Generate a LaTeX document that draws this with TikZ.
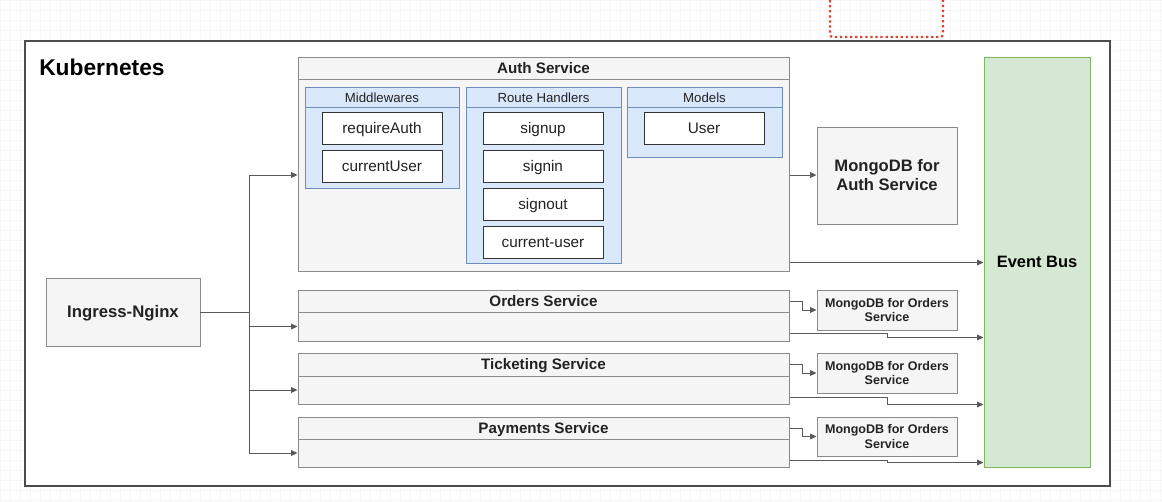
\documentclass[tikz,border=0pt]{standalone}
\usepackage{fontspec}
\setmainfont{Liberation Sans}
\usepackage{xcolor}
\usepackage{tikz}
\usetikzlibrary{positioning,calc,arrows.meta}

\definecolor{boxfill}{HTML}{F5F5F5}
\definecolor{boxline}{HTML}{8A8A8A}
\definecolor{grpfill}{HTML}{DAE8FC}
\definecolor{grpline}{HTML}{6C8EBF}
\definecolor{busfill}{HTML}{D5E8D4}
\definecolor{busline}{HTML}{82B366}
\definecolor{txt}{HTML}{222222}
\definecolor{selred}{HTML}{D9452F}

\newcommand{\pxu}{0.025cm}

\tikzset{
    frame/.style={draw=black!70, fill=white, line width=1pt, inner sep=0pt},
    svcbox/.style={draw=boxline, fill=boxfill, line width=0.7pt, inner sep=0pt, text=txt,
        text height=0.78em, text depth=0.04em, font=\bfseries\fontsize{10.8}{12}\selectfont},
    grphead/.style={draw=grpline, fill=grpfill, line width=0.6pt, inner sep=0pt, text=txt,
        minimum width=155*\pxu, minimum height=20*\pxu, text height=0.78em, text depth=0.04em,
        font=\fontsize{9.4}{11}\selectfont},
    grpbody/.style={draw=grpline, fill=grpfill, line width=0.6pt, inner sep=0pt, minimum width=155*\pxu},
    item/.style={draw=black!80, fill=white, line width=0.7pt, inner sep=0pt, text=txt,
        minimum width=120*\pxu, minimum height=32*\pxu, text height=0.78em, text depth=0.04em,
        font=\fontsize{10.9}{12}\selectfont},
    dbbox/.style={draw=boxline, fill=boxfill, line width=0.7pt, inner sep=0pt, text=txt, align=center,
        minimum width=140*\pxu, font=\bfseries\fontsize{8.9}{10}\selectfont},
    conn/.style={draw=black!65, line width=0.7pt},
    arr/.style={conn, -{Triangle[length=4.5pt,width=4pt]}},
}

\begin{document}
\begin{tikzpicture}[x=\pxu, y=-\pxu]
    \useasboundingbox (0,0) rectangle (1162,501);
    % canvas grid
    \draw[gray!7, line width=0.3pt, step=0.25cm] (0,0) grid (1162,501);
    \draw[selred, dotted, line width=1.6pt, rounded corners=2pt] (830,-5) -- (830,37) -- (943,37) -- (943,-5);

    % Kubernetes cluster
    \node[frame, minimum width=1085*\pxu, minimum height=445*\pxu] (kube) at (567.5,263.5) {};
    \node[anchor=west, inner sep=0pt, text=black, font=\bfseries\fontsize{16.2}{18}\selectfont] (kubelabel) at (39,67) {Kubernetes};

    % Auth Service
    \node[svcbox, minimum width=491*\pxu, minimum height=22*\pxu] (authhead) at (543.5,68) {Auth Service};
    \node[svcbox, minimum width=491*\pxu, minimum height=192*\pxu] (authbody) at (543.5,175) {};

    % Middlewares
    \node[grpbody, minimum width=154*\pxu, minimum height=81*\pxu] (mwbody) at (382,147.5) {};
    \node[grphead, minimum width=154*\pxu] (mwhead) at (382,97) {Middlewares};
    \node[item] (reqauth) at (382,128) {requireAuth};
    \node[item] (curuser) at (382,166) {currentUser};

    % Route Handlers
    \node[grpbody, minimum height=156*\pxu] (rhbody) at (543.5,185) {};
    \node[grphead] (rhhead) at (543.5,97) {Route Handlers};
    \node[item] (signup) at (543,128) {signup};
    \node[item] (signin) at (543,166) {signin};
    \node[item] (signout) at (543,204) {signout};
    \node[item] (curuserroute) at (543,242) {current-user};

    % Models
    \node[grpbody, minimum height=50*\pxu] (mdbody) at (704.5,132) {};
    \node[grphead] (mdhead) at (704.5,97) {Models};
    \node[item] (usermodel) at (704,128) {User};

    % MongoDB for Auth Service
    \node[dbbox, minimum height=97*\pxu, font=\bfseries\fontsize{11.8}{13.5}\selectfont] (mongoauth) at (887,175.5) {MongoDB for\\Auth Service};

    % Event Bus
    \node[draw=busline, fill=busfill, line width=0.7pt, inner sep=0pt, text=black,
        minimum width=106*\pxu, minimum height=410*\pxu, font=\bfseries\fontsize{11.7}{13}\selectfont] (bus) at (1037,262) {Event Bus};

    % Orders Service
    \node[svcbox, minimum width=491*\pxu, minimum height=22*\pxu] (ordhead) at (543.5,301) {Orders Service};
    \node[svcbox, minimum width=491*\pxu, minimum height=29*\pxu] (ordbody) at (543.5,326.5) {};
    \node[dbbox, minimum height=40*\pxu] (mongoord) at (887,310) {MongoDB for Orders\\Service};

    % Ticketing Service
    \node[svcbox, minimum width=491*\pxu, minimum height=23*\pxu] (tickhead) at (543.5,364.5) {Ticketing Service};
    \node[svcbox, minimum width=491*\pxu, minimum height=28*\pxu] (tickbody) at (543.5,390) {};
    \node[dbbox, minimum height=40*\pxu] (mongotick) at (887,373) {MongoDB for Orders\\Service};

    % Payments Service
    \node[svcbox, minimum width=491*\pxu, minimum height=22*\pxu] (payhead) at (543.5,428) {Payments Service};
    \node[svcbox, minimum width=491*\pxu, minimum height=28*\pxu] (paybody) at (543.5,453) {};
    \node[dbbox, minimum height=39*\pxu] (mongopay) at (887,436.5) {MongoDB for Orders\\Service};

    % Ingress-Nginx
    \node[svcbox, minimum width=154*\pxu, minimum height=68*\pxu, font=\bfseries\fontsize{11.9}{13}\selectfont] (ingress) at (123,312) {Ingress-Nginx};

    % ingress routing
    \coordinate (split) at (249,312);
    \draw[conn] (ingress.east) -- (split);
    \draw[arr] (split) |- (authbody.west);
    \draw[arr] (split) |- (ordbody.west);
    \draw[arr] (split) |- (tickbody.west);
    \draw[arr] (split) |- (paybody.west);

    % auth connections
    \draw[arr] (authbody.east) -- (authbody.east -| mongoauth.west);
    \draw[arr] ([yshift=9*\pxu]authbody.south east) coordinate (authout) -- (authout -| bus.west);

    % service to database
    \draw[arr] (ordhead.east) -- ++(13,0) |- (mongoord.west);
    \draw[arr] (tickhead.east) -- ++(13,0) |- (mongotick.west);
    \draw[arr] (payhead.east) -- ++(13,0) |- (mongopay.west);

    % service to event bus
    \draw[arr] ([yshift=8*\pxu]ordbody.south east) -- ++(98,0) -- ++(0,4) coordinate (ordout) -- (ordout -| bus.west);
    \draw[arr] ([yshift=7*\pxu]tickbody.south east) -- ++(98,0) -- ++(0,7) coordinate (tickout) -- (tickout -| bus.west);
    \draw[arr] ([yshift=7*\pxu]paybody.south east) -- ++(98,0) -- ++(0,2) coordinate (payout) -- (payout -| bus.west);
\end{tikzpicture}
\end{document}
